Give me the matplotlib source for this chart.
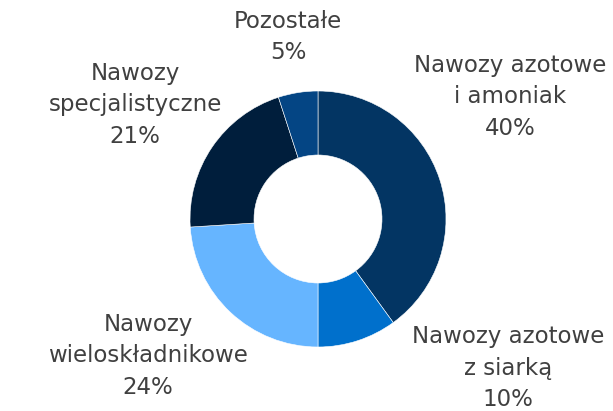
import matplotlib.pyplot as plt

labels = ["Nawozy azotowe\ni amoniak", "Nawozy azotowe\nz siarką", "Nawozy\nwieloskładnikowe",
          "Nawozy\nspecjalistyczne", "Pozostałe"]
values = [40, 10, 24, 21, 5]
colors = ["#033563", "#0070cc", "#66b5ff", "#001e3c", "#044584"]

# label centres in pixels (x, y from top)
label_px = [(510, 97), (508, 368), (148, 356), (135, 105), (288, 37)]

W, H = 613, 411
cx, cy, r = 318, 219, 128

fig = plt.figure(figsize=(W / 100, H / 100), dpi=100)
ax = fig.add_axes([0, 0, 1, 1])
ax.pie(values, colors=colors, startangle=90, counterclock=False, radius=1,
       wedgeprops=dict(width=0.5, edgecolor="white", linewidth=0.4))
ax.set_xlim(-cx / r, (W - cx) / r)
ax.set_ylim(-(H - cy) / r, cy / r)
ax.set_aspect("equal")
ax.axis("off")

for lab, v, (px, py) in zip(labels, values, label_px):
    ax.text((px - cx) / r, (cy - py) / r, lab + "\n" + str(v) + "%", ha="center", va="center",
            fontsize=16.5, color="#404040", linespacing=1.45)

fig.savefig("out.png", dpi=100)
